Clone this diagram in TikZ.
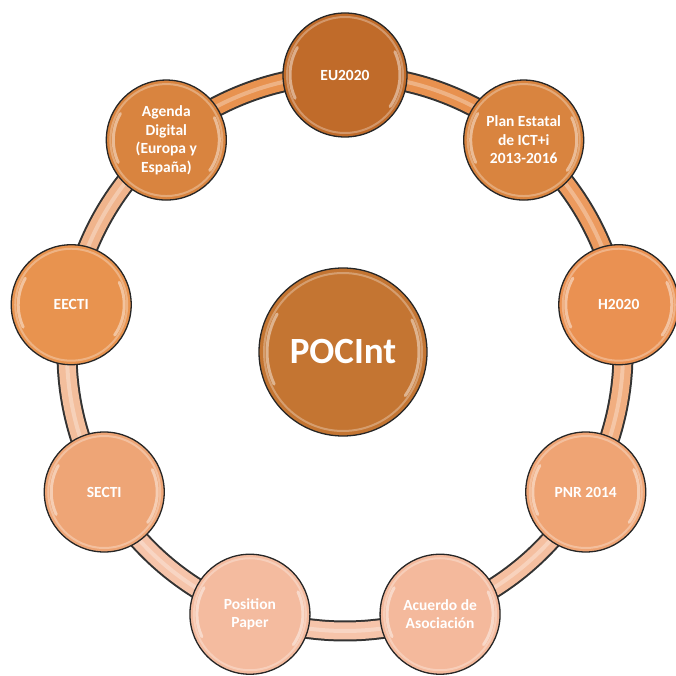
\documentclass[tikz,border=0pt]{standalone}
\usepackage{fontspec}
\setmainfont{Carlito}
\usetikzlibrary{backgrounds}
\definecolor{cA}{HTML}{C06B2A}
\definecolor{cB}{HTML}{D9843F}
\definecolor{cC}{HTML}{EA9152}
\definecolor{cD}{HTML}{EFA474}
\definecolor{cE}{HTML}{F4B99C}
\definecolor{cF}{HTML}{F4BB9F}
\definecolor{cG}{HTML}{EEA576}
\definecolor{cH}{HTML}{E8934F}
\definecolor{cI}{HTML}{D9843F}
\definecolor{cMid}{HTML}{C47532}
\definecolor{sAB}{HTML}{E8914F}
\definecolor{sBC}{HTML}{EC9A5E}
\definecolor{sCD}{HTML}{F1AE80}
\definecolor{sDE}{HTML}{F5BFA0}
\definecolor{sEF}{HTML}{F6C4AA}
\definecolor{sFG}{HTML}{F6C4AA}
\definecolor{sGH}{HTML}{F3BE9C}
\definecolor{sHI}{HTML}{F0B48C}
\definecolor{sIA}{HTML}{E8924F}
\begin{document}
\begin{tikzpicture}[x=1pt,y=1pt,
  bubble/.style={circle, minimum size=120pt, inner sep=0pt, draw=black!85,
    line width=1.3pt, text=white,
    font=\bfseries\fontsize{15.5}{18.5}\selectfont, align=center},
  bandout/.style={line width=21pt, draw=black!80},
  bandin/.style={line width=17pt},
  bandhi/.style={line width=4pt, draw=white, opacity=0.3},
  gloss/.style={draw=white, line width=3pt, opacity=0.45, line cap=round},
  rim/.style={draw=white, line width=2pt, opacity=0.3}
]
\useasboundingbox (0,0) rectangle (676,675);
\coordinate (C) at (345,322);
\node[bubble, fill=cA, minimum size=124pt] (eu) at ([shift={(90:278)}]C) {EU2020};
\node[bubble, fill=cB] (plan) at ([shift={(50:278)}]C) {Plan Estatal\\de ICT+i\\2013-2016};
\node[bubble, fill=cC] (h) at ([shift={(10:278)}]C) {H2020};
\node[bubble, fill=cD] (pnr) at ([shift={(-30:278)}]C) {PNR 2014};
\node[bubble, fill=cE] (acu) at ([shift={(-70:278)}]C) {Acuerdo de\\Asociación};
\node[bubble, fill=cF] (pos) at ([shift={(-110:278)}]C) {Position\\Paper};
\node[bubble, fill=cG] (secti) at ([shift={(-150:278)}]C) {SECTI};
\node[bubble, fill=cH] (eecti) at ([shift={(170:278)}]C) {EECTI};
\node[bubble, fill=cI] (agenda) at ([shift={(130:278)}]C) {Agenda\\Digital\\(Europa y\\España)};
\node[bubble, fill=cMid, minimum size=168pt, font=\bfseries\fontsize{37}{44}\selectfont] (poc) at (343,323) {POCInt};

\foreach \n/\r in {eu/55, plan/53, h/53, pnr/53, acu/53, pos/53, secti/53, eecti/53, agenda/53, poc/76}{
  \draw[rim] (\n.center) circle[radius=\r+3];
  \draw[gloss] ([shift={(150:\r)}]\n.center) arc[start angle=150, end angle=205, radius=\r];
  \draw[gloss] ([shift={(-35:\r)}]\n.center) arc[start angle=-35, end angle=25, radius=\r];
}

\begin{pgfonlayer}{background}
\foreach \a/\b in {eu/plan, plan/h, h/pnr, pnr/acu, acu/pos, pos/secti, secti/eecti, eecti/agenda, agenda/eu}{
  \draw[bandout] (\a.center) to[bend left=20, looseness=0.88] (\b.center);
}
\foreach \a/\b/\c in {eu/plan/sAB, plan/h/sBC, h/pnr/sCD, pnr/acu/sDE, acu/pos/sEF, pos/secti/sFG, secti/eecti/sGH, eecti/agenda/sHI, agenda/eu/sIA}{
  \draw[bandin, draw=\c] (\a.center) to[bend left=20, looseness=0.88] (\b.center);
  \draw[bandhi] (\a.center) to[bend left=20, looseness=0.88] (\b.center);
}
\end{pgfonlayer}
\end{tikzpicture}
\end{document}
